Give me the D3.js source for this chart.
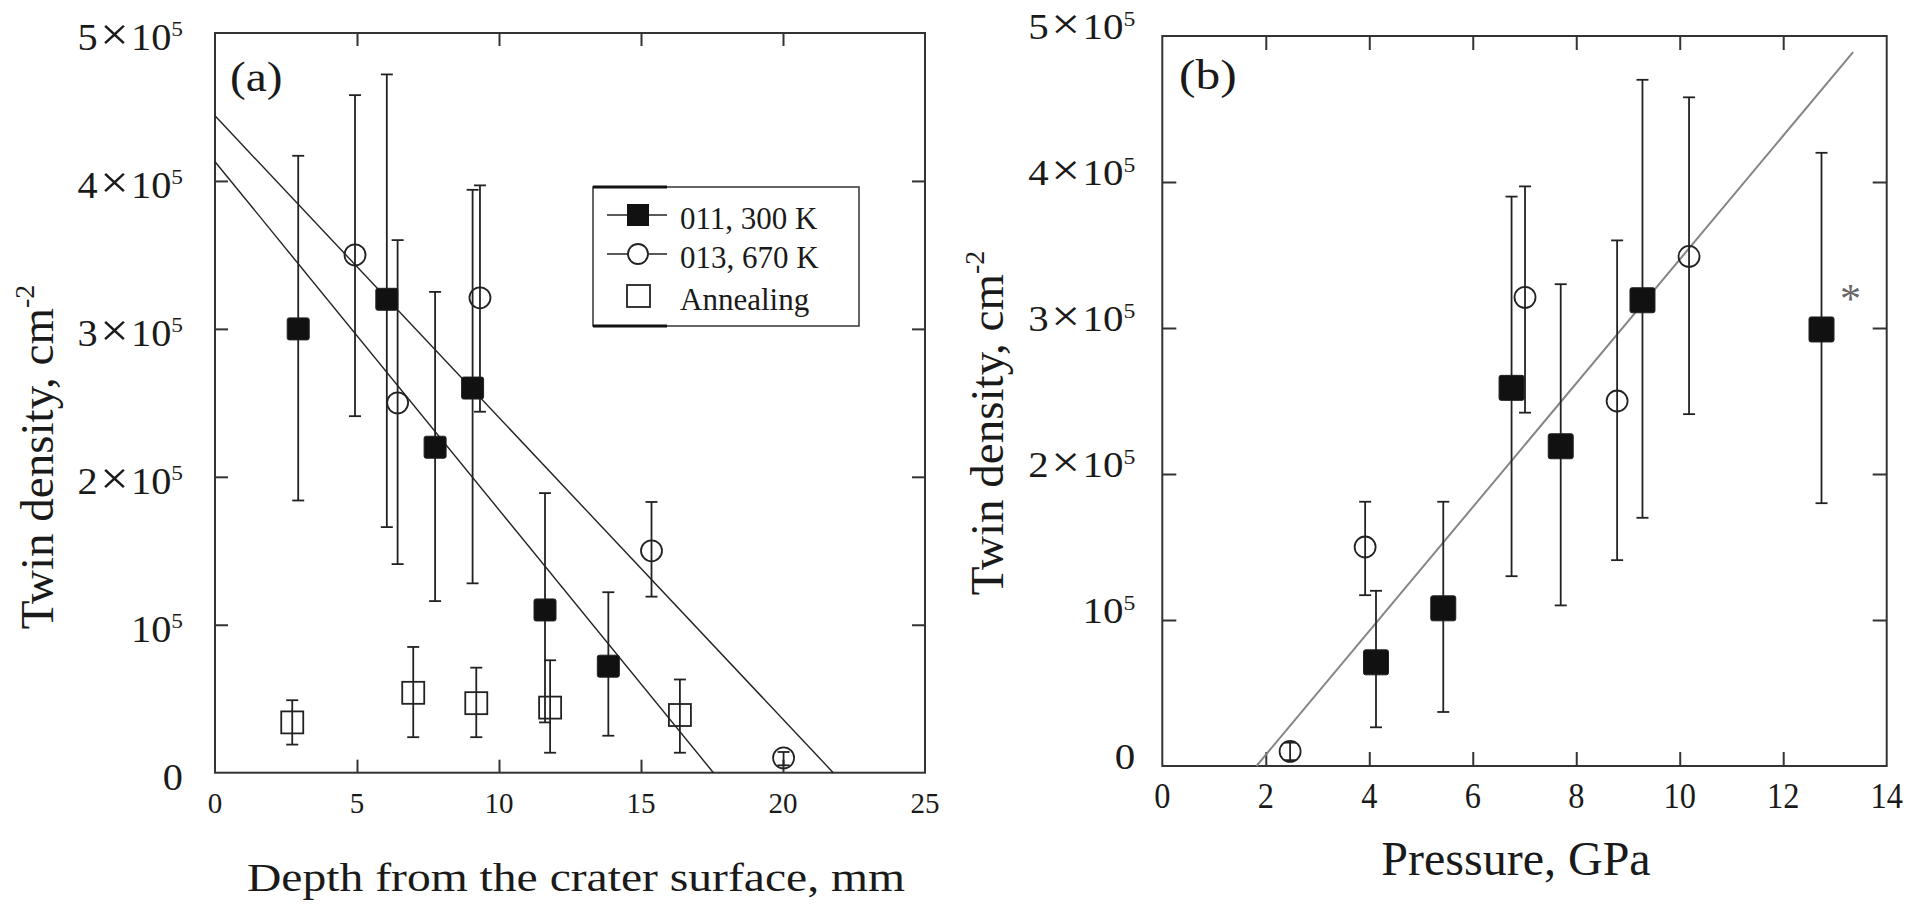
<!DOCTYPE html>
<html>
<head>
<meta charset="utf-8">
<script src="https://cdn.jsdelivr.net/npm/d3@7"></script>
<style>
  body { margin: 0; background: #fff; }
  svg { display: block; }
  text { font-family: 'Liberation Serif', 'Times New Roman', serif; fill: #1a1a1a; }
</style>
</head>
<body>
<svg id="chart" width="1923" height="907"></svg>
<script>

// Shared y ticks
const yTicks = [0, 1e5, 2e5, 3e5, 4e5, 5e5];

// Panel (a) - depth from the crater surface, mm
const depthTicks = [0, 5, 10, 15, 20, 25];
const depth300 = [2.93, 6.05, 7.75, 9.07, 11.62, 13.85];
const twin300 = [3.0e5, 3.2e5, 2.2e5, 2.6e5, 1.1e5, 0.72e5];
const twin300Lo = [1.84e5, 1.66e5, 1.16e5, 1.28e5, 0.34e5, 0.25e5];
const twin300Hi = [4.17e5, 4.72e5, 3.25e5, 3.94e5, 1.89e5, 1.22e5];

const depth670 = [4.93, 6.43, 9.33, 15.37, 20.02];
const twin670 = [3.5e5, 2.5e5, 3.21e5, 1.5e5, 0.1e5];
const twin670Lo = [2.41e5, 1.41e5, 2.44e5, 1.19e5, 0.05e5];
const twin670Hi = [4.58e5, 3.6e5, 3.97e5, 1.83e5, 0.14e5];

const depthAnneal = [2.72, 6.98, 9.2, 11.8, 16.37];
const twinAnneal = [0.34e5, 0.54e5, 0.47e5, 0.44e5, 0.39e5];
const twinAnnealLo = [0.19e5, 0.24e5, 0.24e5, 0.135e5, 0.135e5];
const twinAnnealHi = [0.49e5, 0.85e5, 0.71e5, 0.76e5, 0.63e5];

// Fitted lines of panel (a), end points
const fit670 = [[0, 4.44e5], [21.77, 0]];
const fit300 = [[0, 4.13e5], [17.55, 0]];

// Panel (b) - pressure, GPa
const pressTicks = [0, 2, 4, 6, 8, 10, 12, 14];
const press300 = [4.13, 5.43, 6.75, 7.70, 9.28, 12.74];
const ptwin300 = [0.71e5, 1.08e5, 2.59e5, 2.19e5, 3.19e5, 2.99e5];
const ptwin300Lo = [0.265e5, 0.37e5, 1.30e5, 1.10e5, 1.70e5, 1.80e5];
const ptwin300Hi = [1.20e5, 1.81e5, 3.90e5, 3.30e5, 4.70e5, 4.20e5];

const press670 = [2.47, 3.92, 7.01, 8.79, 10.18];
const ptwin670 = [0.1e5, 1.5e5, 3.21e5, 2.5e5, 3.49e5];
const ptwin670Lo = [0.04e5, 1.17e5, 2.42e5, 1.41e5, 2.41e5];
const ptwin670Hi = [0.16e5, 1.81e5, 3.97e5, 3.6e5, 4.58e5];

const fitPress = [[1.82, 0], [13.35, 4.89e5]];

// Legend entries
const legendLabels = ['011, 300 K', '013, 670 K', 'Annealing'];

const svg = d3.select('#chart');

/**
 * Zips the arrays of one series into points.
 */
const zip = (xs, ys, lo, hi) => xs.map((x, i) => ({ x, y: ys[i], lo: lo[i], hi: hi[i] }));

/**
 * Writes a tick label like 3×10^5 into a text element.
 */
function yLabel(sel, v, size) {
  if (v === 0) { sel.text('0'); return; }
  const m = v / 1e5;
  if (m !== 1) {
    sel.append('tspan').text(m);
    sel.append('tspan').attr('font-size', size * 1.25).attr('dx', size * 0.06).text('×');
    sel.append('tspan').attr('dx', size * 0.06).text('10');
  } else {
    sel.append('tspan').text('10');
  }
  sel.append('tspan').attr('font-size', size * 0.58).attr('dy', -size * 0.37).text('5');
}

/**
 * Draws the frame, the inward ticks and all the axis texts of a panel.
 */
function drawAxes(g, p) {
  const [x0, x1] = p.x.range();
  const [y0, y1] = p.y.range();
  const inner = t => t.slice(1, -1);

  g.append('rect')
    .attr('x', x0).attr('y', y1)
    .attr('width', x1 - x0).attr('height', y0 - y1)
    .attr('fill', 'none').attr('stroke', '#333').attr('stroke-width', 2);

  // Mirrored ticks on all four sides
  [
    [d3.axisBottom(p.x).tickValues(inner(p.xTicks)), `translate(0,${y0})`],
    [d3.axisTop(p.x).tickValues(inner(p.xTicks)), `translate(0,${y1})`],
    [d3.axisLeft(p.y).tickValues(inner(yTicks)), `translate(${x0},0)`],
    [d3.axisRight(p.y).tickValues(inner(yTicks)), `translate(${x1},0)`],
  ].forEach(([axis, tr]) => {
    g.append('g').attr('transform', tr).attr('color', '#333')
      .call(axis.tickSize(-p.tick).tickFormat(''))
      .call(s => s.select('.domain').remove())
      .selectAll('line').attr('stroke-width', 2);
  });

  // Tick labels
  g.selectAll(null).data(p.xTicks).join('text')
    .attr('transform', d => `translate(${p.x(d)},${y0 + p.xLabelDy}) scale(${p.xLabelSx},1)`)
    .attr('text-anchor', 'middle')
    .attr('font-size', p.xLabelSize)
    .text(d => d);

  g.selectAll(null).data(yTicks).join('text')
    .attr('transform', d => `translate(${x0 - p.yLabelGap},${p.y(d) + p.yLabelDy}) scale(${p.yLabelSx},1)`)
    .attr('text-anchor', 'end')
    .attr('font-size', p.yLabelSize)
    .each(function(d) { yLabel(d3.select(this), d, p.yLabelSize); });

  // Axis titles
  g.append('text')
    .attr('transform', `translate(${p.xTitle[0]},${p.xTitle[1]}) scale(${p.xTitleSx},1)`)
    .attr('text-anchor', 'middle')
    .attr('font-size', p.xTitleSize)
    .text(p.xTitleText);

  const yt = g.append('text')
    .attr('transform', `translate(${p.yTitle[0]},${p.yTitle[1]}) rotate(-90)`)
    .attr('text-anchor', 'middle')
    .attr('font-size', 47);
  yt.append('tspan').text('Twin density, cm');
  yt.append('tspan').attr('font-size', 28).attr('dy', -19).text('-2');

  // Panel letter
  g.append('text')
    .attr('transform', `translate(${p.tag[0]},${p.tag[1]}) scale(${p.tagSx},1)`)
    .attr('font-size', 43)
    .text(p.tagText);
}

/**
 * Draws a straight fit line from its two end points.
 */
function drawFit(g, p, pts, color, width) {
  g.append('path')
    .attr('d', d3.line().x(d => p.x(d[0])).y(d => p.y(d[1]))(pts))
    .attr('fill', 'none').attr('stroke', color).attr('stroke-width', width);
}

/**
 * Draws the error bars and the markers of a series.
 */
function drawSeries(g, p, data, kind, size) {
  const cap = 6;
  const bars = g.append('g').attr('stroke', '#222').attr('stroke-width', 1.8);
  data.forEach(d => {
    const cx = p.x(d.x);
    bars.append('line').attr('x1', cx).attr('x2', cx).attr('y1', p.y(d.lo)).attr('y2', p.y(d.hi));
    [d.lo, d.hi].forEach(v => {
      bars.append('line').attr('x1', cx - cap).attr('x2', cx + cap).attr('y1', p.y(v)).attr('y2', p.y(v));
    });
  });

  const marks = g.append('g');
  if (kind === 'circle') {
    marks.selectAll(null).data(data).join('circle')
      .attr('cx', d => p.x(d.x)).attr('cy', d => p.y(d.y)).attr('r', size / 2)
      .attr('fill', 'none').attr('stroke', '#222').attr('stroke-width', 1.8);
  } else {
    marks.selectAll(null).data(data).join('rect')
      .attr('x', d => p.x(d.x) - size / 2).attr('y', d => p.y(d.y) - size / 2)
      .attr('width', size).attr('height', size).attr('rx', kind === 'filled' ? 2 : 0)
      .attr('fill', kind === 'filled' ? '#111' : 'none')
      .attr('stroke', '#222').attr('stroke-width', kind === 'filled' ? 1 : 1.8);
  }
}

// ---- Panel (a)
const pa = {
  x: d3.scaleLinear().domain([0, 25]).range([215, 925]),
  y: d3.scaleLinear().domain([0, 5e5]).range([772.7, 33]),
  xTicks: depthTicks, tick: 13,
  xLabelDy: 40, xLabelSx: 1, xLabelSize: 29,
  yLabelGap: 32, yLabelDy: 17, yLabelSx: 1.09, yLabelSize: 37,
  xTitle: [576, 891], xTitleSx: 1.19, xTitleSize: 40,
  xTitleText: 'Depth from the crater surface, mm',
  yTitle: [53, 457],
  tag: [230, 91], tagSx: 1.1, tagText: '(a)',
};
const ga = svg.append('g');
drawAxes(ga, pa);
drawFit(ga, pa, fit670, '#222', 1.4);
drawFit(ga, pa, fit300, '#222', 1.4);
drawSeries(ga, pa, zip(depthAnneal, twinAnneal, twinAnnealLo, twinAnnealHi), 'open', 22);
drawSeries(ga, pa, zip(depth670, twin670, twin670Lo, twin670Hi), 'circle', 21);
drawSeries(ga, pa, zip(depth300, twin300, twin300Lo, twin300Hi), 'filled', 22);

// Legend
const lg = ga.append('g');
lg.append('rect').attr('x', 593).attr('y', 187).attr('width', 266).attr('height', 139)
  .attr('fill', '#fff').attr('stroke', '#333').attr('stroke-width', 1.5);
[187, 326].forEach(yy => {
  lg.append('line').attr('x1', 593).attr('x2', 667).attr('y1', yy).attr('y2', yy)
    .attr('stroke', '#111').attr('stroke-width', 3);
});
const rowY = [215, 254, 296];
[0, 1].forEach(i => {
  lg.append('line').attr('x1', 607).attr('x2', 667).attr('y1', rowY[i]).attr('y2', rowY[i])
    .attr('stroke', '#222').attr('stroke-width', 1.5);
});
lg.append('rect').attr('x', 627).attr('y', rowY[0] - 11).attr('width', 22).attr('height', 22)
  .attr('fill', '#111');
lg.append('circle').attr('cx', 638).attr('cy', rowY[1]).attr('r', 10)
  .attr('fill', '#fff').attr('stroke', '#222').attr('stroke-width', 1.8);
lg.append('rect').attr('x', 627).attr('y', rowY[2] - 11).attr('width', 23).attr('height', 22)
  .attr('fill', 'none').attr('stroke', '#222').attr('stroke-width', 1.8);
lg.selectAll(null).data(legendLabels).join('text')
  .attr('x', 680).attr('y', (d, i) => rowY[i] + 14)
  .attr('font-size', 31)
  .text(d => d);

// ---- Panel (b)
const pb = {
  x: d3.scaleLinear().domain([0, 14]).range([1162.3, 1886.7]),
  y: d3.scaleLinear().domain([0, 5e5]).range([766, 36]),
  xTicks: pressTicks, tick: 14,
  xLabelDy: 42, xLabelSx: 0.9, xLabelSize: 36,
  yLabelGap: 27, yLabelDy: 3, yLabelSx: 1.17, yLabelSize: 35,
  xTitle: [1516, 875], xTitleSx: 1, xTitleSize: 48,
  xTitleText: 'Pressure, GPa',
  yTitle: [1003, 423],
  tag: [1179, 89], tagSx: 1.15, tagText: '(b)',
};
const gb = svg.append('g');
drawAxes(gb, pb);
drawFit(gb, pb, fitPress, '#858585', 2);
drawSeries(gb, pb, zip(press670, ptwin670, ptwin670Lo, ptwin670Hi), 'circle', 21);
drawSeries(gb, pb, zip(press300, ptwin300, ptwin300Lo, ptwin300Hi), 'filled', 25);

// Asterisk beside the last point
gb.append('text')
  .attr('x', pb.x(press300[5]) + 29).attr('y', pb.y(ptwin300[5]) - 16)
  .attr('text-anchor', 'middle')
  .attr('font-size', 42)
  .style('fill', '#666')
  .text('*');

</script>
</body>
</html>
